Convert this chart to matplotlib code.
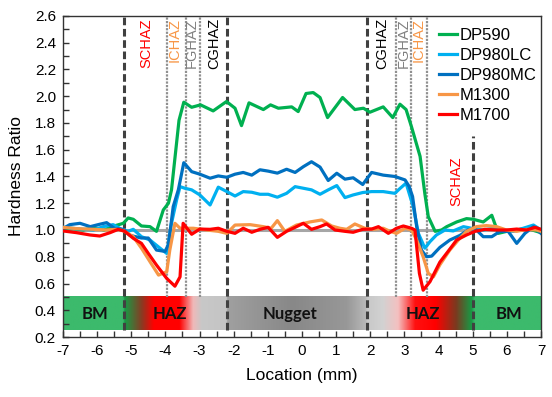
import matplotlib

matplotlib.use("Agg")
import matplotlib.pyplot as plt
import numpy as np
from matplotlib.colors import to_rgb

plt.rcParams["font.family"] = ["Liberation Sans", "DejaVu Sans"]
plt.rcParams["axes.unicode_minus"] = False

# ---- data ----
dp590_x = [-7, -6.7, -6.4, -6.1, -5.8, -5.5, -5.23, -5.09, -4.94, -4.7, -4.45, -4.26, -4.06, -3.91,
           -3.82, -3.6, -3.46, -3.23, -2.97, -2.6, -2.21, -1.96, -1.77, -1.55, -1.13, -0.92, -0.69,
           -0.30, -0.11, 0.12, 0.33, 0.53, 0.75, 1.19, 1.55, 1.80, 1.99, 2.38, 2.66, 2.87, 3.05, 3.21,
           3.46, 3.6, 3.70, 3.90, 4.09, 4.24, 4.53, 4.82, 5.02, 5.31, 5.56, 5.75, 6.0, 6.29, 6.58,
           6.87, 7.0]
dp590_y = [1.0, 1.01, 1.0, 1.02, 1.0, 1.03, 1.05, 1.09, 1.08, 1.03, 1.025, 0.99, 1.15, 1.2,
           1.30, 1.82, 1.955, 1.917, 1.935, 1.89, 1.96, 1.91, 1.78, 1.95, 1.90, 1.935, 1.91,
           1.92, 1.885, 2.02, 2.027, 1.99, 1.84, 1.99, 1.90, 1.91, 1.88, 1.92, 1.84, 1.94, 1.90, 1.77,
           1.55, 1.27, 1.10, 0.99, 1.0, 1.025, 1.06, 1.085, 1.08, 1.06, 1.11, 0.975, 0.99, 1.0, 1.013,
           0.99, 0.98]

dp980lc_x = [-7, -6.6, -6.11, -5.82, -5.53, -5.28, -5.09, -4.94, -4.7, -4.45, -4.16, -3.96, -3.82,
             -3.67, -3.57, -3.43, -3.23, -2.99, -2.69, -2.45, -2.2, -1.96, -1.72, -1.47, -1.23, -0.99,
             -0.72, -0.45, -0.2, 0.04, 0.28, 0.53, 0.77, 1.02, 1.26, 1.5, 1.78, 2.04, 2.38, 2.72, 2.87,
             3.05, 3.14, 3.26, 3.41, 3.6, 3.75, 3.94, 4.19, 4.43, 4.73, 5.02, 5.31, 5.6, 5.9, 6.19,
             6.48, 6.78, 7.0]
dp980lc_y = [1.02, 1.01, 1.0, 1.025, 1.04, 1.005, 0.99, 1.005, 0.95, 0.925, 0.865, 0.825, 1.05,
             1.225, 1.324, 1.312, 1.30, 1.262, 1.187, 1.32, 1.287, 1.254, 1.287, 1.282, 1.267, 1.267,
             1.245, 1.274, 1.324, 1.312, 1.30, 1.267, 1.30, 1.332, 1.242, 1.262, 1.28, 1.287, 1.287,
             1.274, 1.31, 1.35, 1.274, 1.174, 0.975, 0.864, 0.913, 0.963, 1.0, 0.993, 1.025, 1.01,
             1.0, 1.013, 1.0, 0.99, 1.013, 1.037, 1.0]

dp980mc_x = [-7, -6.8, -6.5, -6.2, -5.97, -5.72, -5.48, -5.23, -5.04, -4.7, -4.5, -4.26, -4.01,
             -3.91, -3.77, -3.62, -3.46, -3.23, -2.99, -2.69, -2.45, -2.2, -1.96, -1.72, -1.47, -1.23,
             -0.99, -0.72, -0.45, -0.2, 0.04, 0.28, 0.53, 0.77, 1.02, 1.26, 1.50, 1.78, 2.04, 2.38,
             2.72, 3.02, 3.14, 3.24, 3.36, 3.5, 3.65, 3.80, 4.04, 4.33, 4.63, 4.87, 5.07, 5.31, 5.56,
             5.8, 6.04, 6.29, 6.53, 6.78, 7.0]
dp980mc_y = [1.01, 1.04, 1.05, 1.025, 1.04, 1.055, 1.01, 1.005, 0.96, 0.94, 0.94, 0.85, 0.84,
             0.89, 1.175, 1.30, 1.503, 1.436, 1.417, 1.387, 1.404, 1.394, 1.417, 1.43, 1.41, 1.45,
             1.44, 1.425, 1.454, 1.43, 1.473, 1.51, 1.47, 1.37, 1.424, 1.38, 1.39, 1.34, 1.43, 1.41,
             1.40, 1.374, 1.325, 1.25, 1.025, 0.85, 0.80, 0.805, 0.87, 0.925, 0.96, 1.0, 1.01, 0.95,
             0.95, 0.99, 0.99, 0.90, 0.975, 1.025, 0.975]

m1300_x = [-7, -6.6, -6.1, -5.72, -5.43, -5.23, -4.94, -4.7, -4.45, -4.2, -3.96, -3.87, -3.72,
           -3.57, -3.18, -2.79, -2.45, -2.2, -1.96, -1.52, -1.13, -0.9, -0.72, -0.5, -0.16, 0.23,
           0.58, 0.87, 1.11, 1.31, 1.55, 1.84, 2.09, 2.38, 2.58, 2.77, 3.02, 3.21, 3.36, 3.55, 3.70,
           3.85, 4.04, 4.33, 4.58, 4.82, 5.11, 5.4, 5.7, 5.99, 6.29, 6.58, 6.87, 7.0]
m1300_y = [1.02, 1.01, 1.005, 1.0, 1.005, 0.995, 0.95, 0.864, 0.763, 0.663, 0.688, 0.85, 1.05,
           1.013, 1.013, 1.0, 0.99, 0.975, 1.037, 1.04, 1.025, 1.013, 1.07, 0.99, 1.037, 1.06,
           1.075, 1.03, 1.013, 1.005, 1.045, 1.013, 1.005, 1.013, 0.99, 0.975, 1.013, 1.0, 0.925,
           0.80, 0.676, 0.65, 0.74, 0.85, 0.925, 0.99, 1.025, 1.033, 1.025, 1.0, 0.99, 1.005, 1.0,
           0.99]

m1700_x = [-7, -6.6, -6.21, -5.92, -5.62, -5.38, -5.19, -4.94, -4.7, -4.5, -4.26, -3.96, -3.72,
           -3.57, -3.48, -3.23, -2.99, -2.69, -2.45, -2.2, -1.96, -1.72, -1.47, -1.23, -0.99, -0.72,
           -0.45, -0.2, 0.04, 0.28, 0.53, 0.72, 0.97, 1.26, 1.5, 1.78, 2.04, 2.24, 2.53, 2.77, 2.97,
           3.21, 3.31, 3.44, 3.55, 3.75, 4.04, 4.28, 4.53, 4.82, 5.07, 5.36, 5.7, 5.99, 6.29, 6.58,
           6.83, 7.0]
m1700_y = [0.993, 0.98, 0.963, 0.955, 0.98, 1.005, 0.99, 0.938, 0.90, 0.825, 0.738, 0.638, 0.58,
           0.65, 1.05, 0.968, 1.007, 1.005, 1.013, 0.99, 0.975, 1.013, 0.983, 1.005, 1.02, 0.945,
           0.99, 1.02, 1.05, 1.005, 1.025, 1.045, 1.0, 0.99, 0.983, 1.005, 1.007, 1.025, 0.975,
           1.013, 1.03, 1.013, 1.0, 0.676, 0.55, 0.614, 0.76, 0.84, 0.925, 0.963, 0.99, 1.005, 1.0,
           1.0, 1.007, 1.0, 1.02, 1.005]

series = [
    ("DP590", dp590_x, dp590_y, "#00B050"),
    ("DP980LC", dp980lc_x, dp980lc_y, "#00B0F0"),
    ("DP980MC", dp980mc_x, dp980mc_y, "#0070C0"),
    ("M1300", m1300_x, m1300_y, "#F79646"),
    ("M1700", m1700_x, m1700_y, "#FF0000"),
]

# zone boundaries (mm)
dashed_x = [-5.2, -2.2, 1.9]
dotted_x = [-3.95, -3.4, -3.0, 2.75, 3.2, 3.65]
right_boundary = 5.0

# zone labels: (x, text, color)
zone_labels = [
    (-4.55, "SCHAZ", "#FF0000"),
    (-3.72, "ICHAZ", "#F79646"),
    (-3.24, "FGHAZ", "#808080"),
    (-2.58, "CGHAZ", "#000000"),
    (2.36, "CGHAZ", "#000000"),
    (2.97, "FGHAZ", "#808080"),
    (3.42, "ICHAZ", "#F79646"),
]

# region band labels
band_labels = [(-6.07, "BM"), (-3.87, "HAZ"), (-0.35, "Nugget"), (3.55, "HAZ"), (6.07, "BM")]

# gradient stops for the region band (x in mm, colour)
band_stops = [
    (-7.0, "#3CBA6C"), (-5.25, "#3CBA6C"), (-5.2, "#179A45"), (-4.7, "#8A3A22"),
    (-4.35, "#FF0000"), (-3.6, "#FF0000"), (-3.2, "#F0B8B8"), (-2.95, "#C8C8C8"),
    (-2.22, "#C4C4C4"), (-2.2, "#A0A0A0"), (-0.3, "#888888"), (1.3, "#989898"),
    (1.85, "#B8B8B8"), (1.9, "#C8C8C8"), (2.35, "#D2D2D2"), (2.8, "#F4C0C0"),
    (3.3, "#FF1010"), (3.9, "#FF0000"), (4.5, "#7A3A20"), (4.95, "#179A45"),
    (5.05, "#3CBA6C"), (7.0, "#3CBA6C"),
]

fig = plt.figure(figsize=(5.52, 3.97), dpi=100)
ax = fig.add_axes([0.114, 0.151, 0.866, 0.809])

# region band
bx = np.linspace(-7, 6.97, 700)
sx = [s[0] for s in band_stops]
rgb = np.array([to_rgb(s[1]) for s in band_stops])
img = np.stack([np.interp(bx, sx, rgb[:, k]) for k in range(3)], axis=-1)[None, :, :]
ax.imshow(img, extent=(-7, 6.97, 0.25, 0.5), aspect="auto", zorder=1, interpolation="bilinear")
for x, t in band_labels:
    ax.text(x, 0.372, t, ha="center", va="center", fontsize=12, fontweight="bold",
            family=["Lato", "DejaVu Sans"], color="#111111", zorder=3)

# reference line
ax.axhline(1.0, color="#A6A6A6", lw=2.2, zorder=2)

# zone boundaries
for x in dashed_x:
    ax.plot([x, x], [0.25, 2.6], color="#404040", lw=2.2, ls=(0, (2.5, 1.2)), zorder=2)
ax.plot([right_boundary] * 2, [0.25, 1.7], color="#404040", lw=2.2, ls=(0, (2.5, 1.2)), zorder=2)
for x in dotted_x:
    ax.plot([x, x], [0.5, 2.6], color="#909090", lw=1.6, ls=(0, (1, 0.6)), zorder=2)

for x, t, c in zone_labels:
    ax.text(x, 2.585, t, rotation=90, ha="center", va="top", fontsize=10.5, color=c, zorder=3)
ax.text(4.52, 1.55, "SCHAZ", rotation=90, ha="center", va="top", fontsize=10.5, color="#FF0000",
        zorder=3)

for name, xs, ys, c in series:
    ax.plot(xs, ys, color=c, lw=2.3, label=name, zorder=4)

ax.set_xlim(-7, 7)
ax.set_ylim(0.2, 2.6)
ax.set_xticks(np.arange(-7, 8, 1))
ax.set_xticks(np.arange(-7, 7.5, 0.5), minor=True)
ax.set_yticks(np.arange(0.2, 2.61, 0.2))
ax.set_yticks(np.arange(0.2, 2.61, 0.1), minor=True)
ax.set_yticklabels([f"{v:.1f}" for v in np.arange(0.2, 2.61, 0.2)])
ax.tick_params(which="both", direction="in", length=4, width=1, labelsize=11,
               color="#333333", pad=5)
for s in ax.spines.values():
    s.set_color("#333333")
    s.set_linewidth(1.0)

ax.set_xlabel("Location (mm)", fontsize=12.5, labelpad=7)
ax.set_ylabel("Hardness Ratio", fontsize=12.5, labelpad=8)

ax.legend(loc="upper right", bbox_to_anchor=(1.015, 1.0), frameon=False, fontsize=12,
          handlelength=1.1, handletextpad=0.15, labelspacing=0.3, borderaxespad=0.3)

fig.savefig("out.png", dpi=100)
